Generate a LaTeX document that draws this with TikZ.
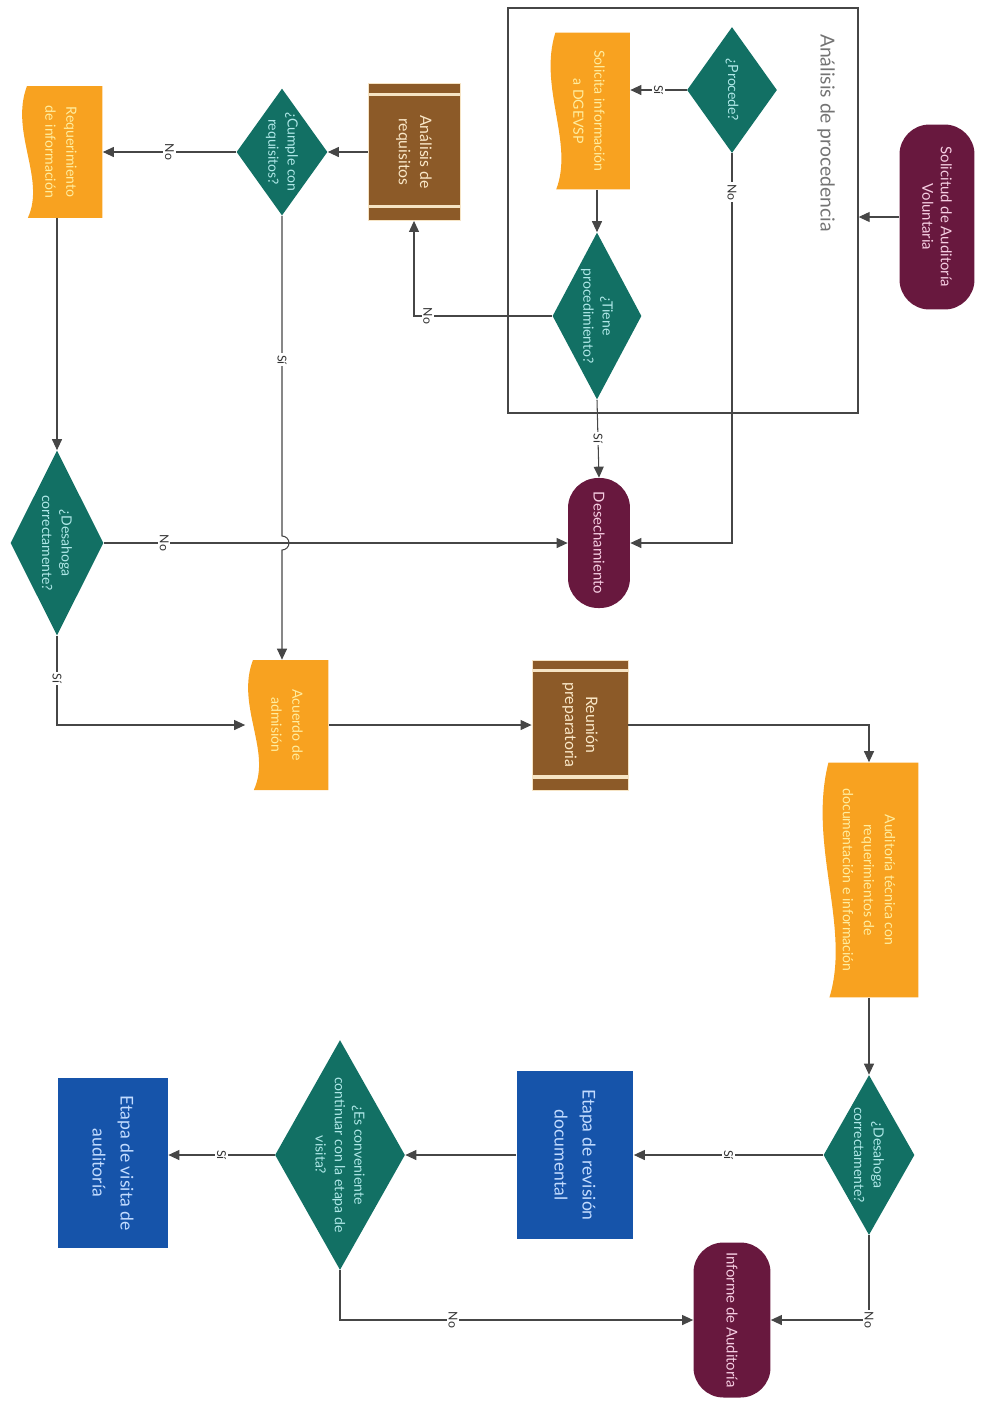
\documentclass[tikz,border=0pt]{standalone}
\usepackage{fontspec}
\setmainfont{Lato}
\usetikzlibrary{arrows.meta,calc,shapes.geometric}

\definecolor{termfill}{RGB}{104,24,62}
\definecolor{termink}{RGB}{245,205,225}
\definecolor{decfill}{RGB}{18,112,100}
\definecolor{decink}{RGB}{175,232,232}
\definecolor{docfill}{RGB}{248,162,32}
\definecolor{docink}{RGB}{255,238,160}
\definecolor{subfill}{RGB}{140,90,40}
\definecolor{subink}{RGB}{250,232,200}
\definecolor{stripe}{RGB}{246,228,196}
\definecolor{procfill}{RGB}{22,84,170}
\definecolor{procink}{RGB}{195,220,255}
\definecolor{linegray}{RGB}{70,70,70}

\def\ppbb{path picture bounding box}

\tikzset{
	conn/.style={draw=linegray, line width=0.6pt, -{Triangle[length=2.2mm,width=2mm]}},
	lbl/.style={fill=white, inner sep=1pt, rotate=-90, font=\fontsize{7}{8}\selectfont, text=black!80},
	grpbox/.style={draw=linegray, line width=0.8pt, inner sep=0pt},
	grptxt/.style={rotate=-90, font=\fontsize{11}{13}\selectfont, text=black!55},
	termbox/.style={rectangle, rounded corners=0.6cm, fill=termfill, inner sep=0pt},
	termtxt/.style={rotate=-90, align=center, text=termink, font=\fontsize{8.5}{10.5}\selectfont},
	decbox/.style={diamond, fill=decfill, inner sep=0pt},
	dectxt/.style={rotate=-90, align=center, text=decink, font=\fontsize{8}{11}\selectfont},
	docbox/.style={rectangle, inner sep=0pt, path picture={
		\fill[docfill] let \p1=(\ppbb.north west), \p2=(\ppbb.south east), \n1={\x2-\x1}, \n2={\y1-\y2} in
			(\x2,\y1) -- (\x1+0.09*\n1,\y1) .. controls (\x1-0.12*\n1,\y1-0.35*\n2) and (\x1+0.32*\n1,\y1-0.7*\n2) .. (\x1+0.1*\n1,\y2) -- (\x2,\y2) -- cycle;}},
	doctxt/.style={rotate=-90, align=center, text=docink, font=\fontsize{8}{12}\selectfont},
	subbox/.style={rectangle, fill=subfill, draw=stripe, line width=0.5pt, inner sep=0pt, path picture={
		\foreach \f in {0.08,0.9}
			\draw[stripe, line width=1.8pt] ($(\ppbb.north west)!\f!(\ppbb.south west)$) -- ($(\ppbb.north east)!\f!(\ppbb.south east)$);}},
	subtxt/.style={rotate=-90, align=center, text=subink, font=\fontsize{9}{12}\selectfont},
	procbox/.style={rectangle, fill=procfill, inner sep=0pt},
	proctxt/.style={rotate=-90, align=center, text=procink, font=\fontsize{10}{16}\selectfont}
}

\begin{document}
\begin{tikzpicture}[x=0.02cm, y=-0.02cm]
	%%%%% START %%%%%
	\useasboundingbox (0,0) rectangle (984,1401);
	
	% Analisis de procedencia
	\node[grpbox, minimum width=7cm, minimum height=8.1cm] (grp) at (683,210.5) {};
	\node[grptxt] (grptitle) at (826,133) {Análisis de procedencia};
	
	\node[termbox, minimum width=1.5cm, minimum height=3.7cm, label={[termtxt]center:{Solicitud de Auditoría\\Voluntaria}}] (sol) at (937,217) {};
	\node[decbox, minimum width=1.8cm, minimum height=2.52cm, label={[dectxt]center:{¿Procede?}}] (procede) at (732,90) {};
	\node[docbox, minimum width=1.64cm, minimum height=3.14cm, label={[doctxt]center:{Solicita información\\a DGEVSP}}] (solinf) at (589,111) {};
	\node[decbox, minimum width=1.78cm, minimum height=3.34cm, label={[dectxt]center:{¿Tiene\\procedimiento?}}] (tiene) at (597,316) {};
	\node[termbox, minimum width=1.24cm, minimum height=2.6cm, label={[termtxt]center:{Desechamiento}}] (desech) at (599,543) {};
	
	% requisitos
	\node[subbox, minimum width=1.84cm, minimum height=2.74cm, label={[subtxt]center:{Análisis de\\requisitos}}] (analreq) at (414,152) {};
	\node[decbox, minimum width=1.82cm, minimum height=2.54cm, label={[dectxt]center:{¿Cumple con\\requisitos?}}] (cumple) at (282,152) {};
	\node[docbox, minimum width=1.66cm, minimum height=2.64cm, label={[doctxt]center:{Requerimiento\\de información}}] (reqinf) at (61,152) {};
	\node[decbox, minimum width=1.86cm, minimum height=3.7cm, label={[dectxt]center:{¿Desahoga\\correctamente?}}] (desah1) at (57,543) {};
	\node[docbox, minimum width=1.66cm, minimum height=2.6cm, label={[doctxt]center:{Acuerdo de\\admisión}}] (acuerdo) at (287,725) {};
	\node[subbox, minimum width=1.92cm, minimum height=2.6cm, label={[subtxt]center:{Reunión\\preparatoria}}] (reunion) at (580,725) {};
	
	% auditoria
	\node[docbox, minimum width=1.98cm, minimum height=4.7cm, label={[doctxt]center:{Auditoría técnica con\\requerimientos de\\documentación e información}}] (audtec) at (869,880) {};
	\node[decbox, minimum width=1.82cm, minimum height=3.2cm, label={[dectxt]center:{¿Desahoga\\correctamente?}}] (desah2) at (869,1155) {};
	\node[procbox, minimum width=2.34cm, minimum height=3.36cm, label={[proctxt]center:{Etapa de revisión\\documental}}] (etrev) at (575,1155) {};
	\node[decbox, minimum width=2.6cm, minimum height=4.6cm, label={[dectxt]center:{¿Es conveniente\\continuar con la etapa de\\visita?}}] (conv) at (340,1155) {};
	\node[procbox, minimum width=2.2cm, minimum height=3.4cm, label={[proctxt]center:{Etapa de visita de\\auditoría}}] (etvis) at (113,1163) {};
	\node[termbox, minimum width=1.54cm, minimum height=3.1cm, label={[termtxt]center:{Informe de Auditoría}}] (informe) at (732,1320) {};
	
	% connectors
	\draw[conn] (sol.west) -- (sol.west -| grp.east);
	\draw[conn] (procede.west) -- node[lbl]{Sí} (procede.west -| solinf.east);
	\draw[conn] (tiene.north |- solinf.south) -- (tiene.north);
	\draw[conn] (procede.south) |- node[lbl, pos=0.05]{No} (desech.east);
	\draw[conn] (tiene.south) -- node[lbl]{Sí} (desech.north);
	\draw[conn] (tiene.west) -| node[lbl, pos=0.45]{No} (analreq.south);
	\draw[conn] (analreq.west) -- (cumple.east);
	\draw[conn] (cumple.west) -- node[lbl]{No} (reqinf.east);
	\draw[conn] (desah1.north |- reqinf.south) -- (desah1.north);
	\draw[conn] (desah1.east) -- node[lbl, pos=0.13]{No} (desech.west);
	\draw[conn] (cumple.south) -- node[lbl, pos=0.45]{Sí} ($(cumple.south |- desah1.east)+(0,-7)$) arc[start angle=90, end angle=-90, radius=0.14cm] -- (cumple.south |- acuerdo.north);
	\draw[conn] (desah1.south) |- node[lbl, pos=0.24]{Sí} (acuerdo.west);
	\draw[conn] (acuerdo.east) -- (reunion.west);
	\draw[conn] (reunion.east) -| (audtec.north);
	\draw[conn] (audtec.south) -- (desah2.north);
	\draw[conn] (desah2.west) -- node[lbl]{Sí} (etrev.east);
	\draw[conn] (etrev.west) -- (conv.east);
	\draw[conn] (conv.west) -- node[lbl]{Sí} (conv.west -| etvis.east);
	\draw[conn] (desah2.south) |- node[lbl]{No} (informe.east);
	\draw[conn] (conv.south) |- node[lbl, pos=0.66]{No} (informe.west);
	%%%%% END %%%%%
\end{tikzpicture}
\end{document}
